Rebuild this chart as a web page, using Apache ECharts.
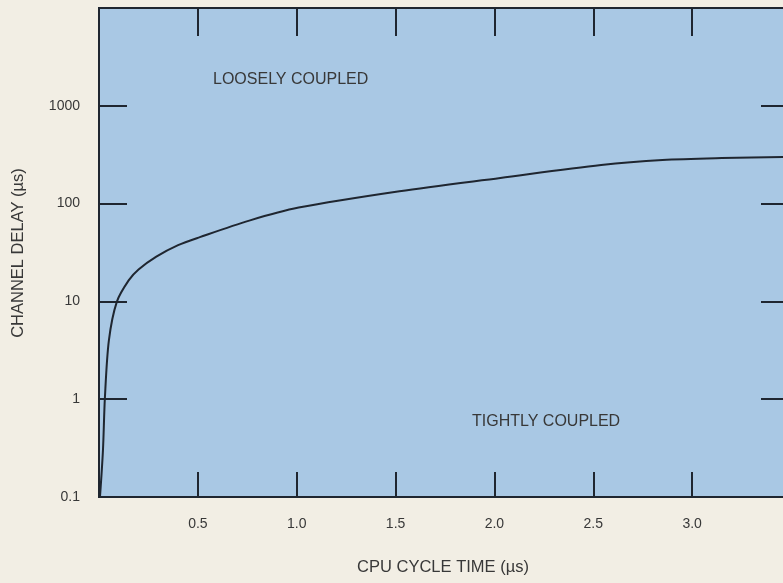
<!DOCTYPE html>
<html>
<head>
<meta charset="utf-8">
<script src="https://cdn.jsdelivr.net/npm/echarts@6/dist/echarts.min.js"></script>
<style>
html,body{margin:0;padding:0;background:#f2eee4;}
#chart{width:783px;height:583px;}
</style>
</head>
<body>
<div id="chart"></div>
<script>
// Data
var cycleTime = [0.005, 0.02, 0.03, 0.05, 0.09, 0.15, 0.20, 0.29, 0.40, 0.51, 0.76, 1.01, 1.52, 2.03, 2.54, 2.85, 3.15, 3.5];
var channelDelay = [0.1, 0.3, 1.05, 4.0, 9.9, 16.4, 21.2, 28.7, 37.6, 45.4, 67, 91, 134, 183, 248, 279, 292, 300];
var xTickLabels = ['0.5', '1.0', '1.5', '2.0', '2.5', '3.0'];
var yTickLabels = ['0.1', '1', '10', '100', '1000'];
var annotations = ['LOOSELY COUPLED', 'TIGHTLY COUPLED'];
var xName = 'CPU CYCLE TIME (\u00b5s)';
var yName = 'CHANNEL DELAY (\u00b5s)';

var ink = '#1f2630';
var textCol = '#383838';
var font = 'Liberation Sans, Arial, Helvetica, sans-serif';

var chart = echarts.init(document.getElementById('chart'), null, {renderer: 'canvas'});

function xFmt(v) {
  var s = v.toFixed(1);
  return xTickLabels.indexOf(s) >= 0 ? s : '';
}
function yFmt(v) {
  var s = String(+v.toPrecision(6));
  return yTickLabels.indexOf(s) >= 0 ? s : '';
}

var lineStyle = {color: ink, width: 2};

chart.setOption({
  animation: false,
  backgroundColor: '#f2eee4',
  grid: {
    left: 99, top: 8, right: -8, bottom: 86,
    containLabel: false,
    outerBoundsMode: 'none',
    show: true, backgroundColor: '#a9c8e4',
    borderColor: ink, borderWidth: 2
  },
  xAxis: [{
    type: 'value', position: 'bottom', min: 0, max: 3.5, interval: 0.5,
    axisLine: {show: true, onZero: false, lineStyle: lineStyle},
    axisTick: {show: true, inside: true, length: 25, lineStyle: lineStyle},
    axisLabel: {formatter: xFmt, margin: 20, color: textCol, fontSize: 14, fontFamily: font},
    splitLine: {show: false}
  }, {
    type: 'value', position: 'top', min: 0, max: 3.5, interval: 0.5,
    axisLine: {show: true, onZero: false, lineStyle: lineStyle},
    axisTick: {show: true, inside: true, length: 28, lineStyle: lineStyle},
    axisLabel: {show: false},
    splitLine: {show: false}
  }],
  yAxis: [{
    type: 'log', logBase: 10, position: 'left', min: 0.1, max: 10000,
    axisLine: {show: true, onZero: false, lineStyle: lineStyle},
    axisTick: {show: true, inside: true, length: 28, lineStyle: lineStyle},
    axisLabel: {formatter: yFmt, margin: 19, color: textCol, fontSize: 14, fontFamily: font},
    splitLine: {show: false},
    minorTick: {show: false}
  }, {
    type: 'log', logBase: 10, position: 'right', min: 0.1, max: 10000,
    axisLine: {show: true, onZero: false, lineStyle: lineStyle},
    axisTick: {show: true, inside: true, length: 30, lineStyle: lineStyle},
    axisLabel: {show: false},
    splitLine: {show: false}
  }],
  series: [{
    type: 'line',
    xAxisIndex: 0, yAxisIndex: 0,
    data: cycleTime.map(function (x, i) { return [x, channelDelay[i]]; }),
    smooth: 0.3,
    symbol: 'none',
    lineStyle: {color: ink, width: 2},
    clip: true
  }],
  graphic: [
    {type: 'text', left: 213, top: 72, style: {text: annotations[0], fill: textCol, font: '16px ' + font}},
    {type: 'text', left: 472, top: 414, style: {text: annotations[1], fill: textCol, font: '16px ' + font}},
    {type: 'text', x: 443, y: 567, style: {text: xName, fill: textCol, font: '16.5px ' + font, align: 'center', verticalAlign: 'middle'}},
    {type: 'text', x: 18, y: 253, rotation: Math.PI / 2, style: {text: yName, fill: textCol, font: '16.5px ' + font, align: 'center', verticalAlign: 'middle'}}
  ]
});
</script>
</body>
</html>
